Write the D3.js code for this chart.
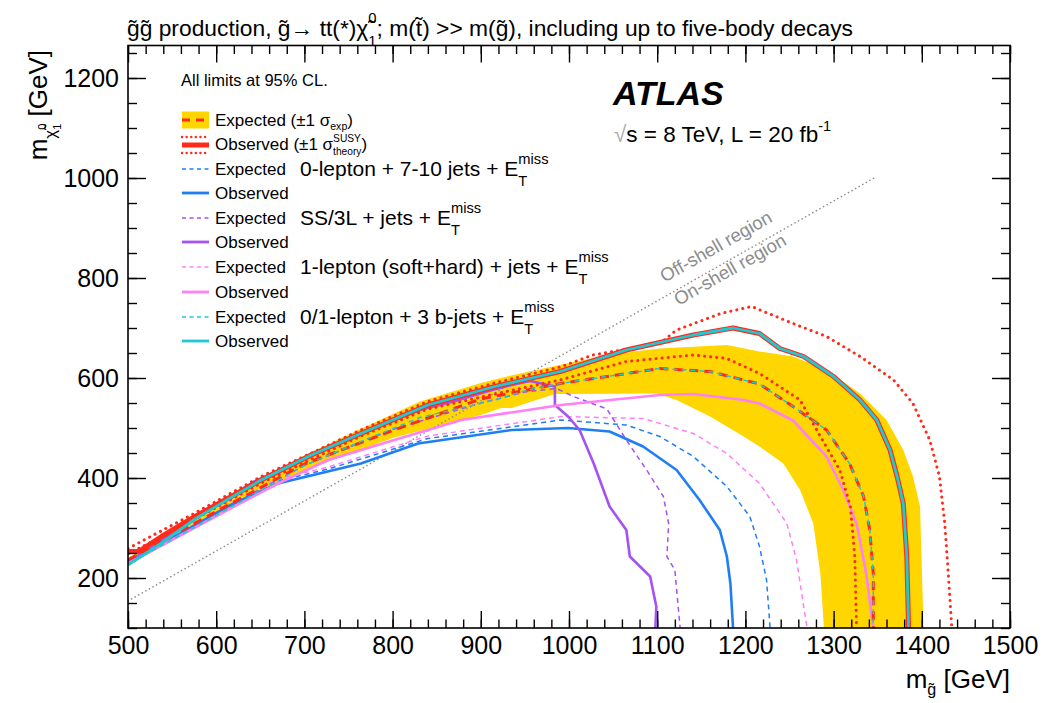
<!DOCTYPE html>
<html>
<head>
<meta charset="utf-8">
<script src="https://cdn.jsdelivr.net/npm/d3@7"></script>
<style>
body { margin: 0; background: #fff; }
text { font-family: "Liberation Sans", Arial, Helvetica, sans-serif; }
</style>
</head>
<body>
<svg id="chart" width="1045" height="703"></svg>
<script>
// tick labels
const xTicks = [500, 600, 700, 800, 900, 1000, 1100, 1200, 1300, 1400, 1500];
const yTicks = [200, 400, 600, 800, 1000, 1200];

// combined expected +-1 sigma band (outer edge, inner edge)
const bandUp = [[500,240],[600,340],[700,445],[760,495],[831,553],[900,590],[937,606],[1000,630],[1050,648],[1103,659],[1179,666],[1216,653],[1254,643],[1292,616],[1330,569],[1360,516],[1379,456],[1390,403],[1398,343],[1402,100]];
const bandDown = [[500,226],[600,322],[700,415],[800,480],[900,526],[923,540],[935,540],[984,568],[1100,569],[1122,556],[1160,523],[1198,483],[1216,463],[1243,429],[1262,376],[1277,309],[1285,209],[1289,100]];

// combined limits
const combExp = [[500,236],[600,333],[700,428],[800,495],[900,558],[990,589],[1103,619],[1160,613],[1216,588],[1254,543],[1292,496],[1318,429],[1334,363],[1341,296],[1345,209],[1345,100]];
const combObs = [[500,253],[512,253],[538,283],[576,323],[613,359],[651,396],[708,446],[764,489],[840,546],[916,583],[990,613],[1065,656],[1141,686],[1186,700],[1216,689],[1239,659],[1266,643],[1300,603],[1330,556],[1349,516],[1364,456],[1372,403],[1379,349],[1383,243],[1385,100]];
const combObsUp = [[500,259],[576,330],[651,403],[764,496],[840,553],[916,590],[990,622],[1027,646],[1103,669],[1122,696],[1172,729],[1207,743],[1254,709],[1292,683],[1330,643],[1368,596],[1390,549],[1409,476],[1420,403],[1426,309],[1430,209],[1434,100]];
const combObsDown = [[500,248],[576,318],[651,390],[764,484],[840,538],[916,568],[990,596],[1065,633],[1141,646],[1179,639],[1216,609],[1262,556],[1285,483],[1307,416],[1319,343],[1324,243],[1326,100]];

// 0-lepton + 7-10 jets
const zlExp = [[500,231],[613,343],[670,394],[727,418],[840,479],[991,516],[1065,506],[1103,483],[1141,443],[1179,383],[1205,323],[1216,263],[1224,196],[1228,100]];
const zlObs = [[500,229],[613,343],[670,389],[764,429],[829,469],[935,496],[999,500],[1046,493],[1084,463],[1122,416],[1148,356],[1171,296],[1179,243],[1183,189],[1186,100]];

// SS/3L + jets
const ssExp = [[500,230],[600,330],[700,425],[800,497],[900,550],[950,572],[986,579],[1005,563],[1043,538],[1065,476],[1088,416],[1107,363],[1113,309],[1111,243],[1120,216],[1126,100]];
const ssObs = [[500,232],[642,392],[755,483],[831,536],[869,553],[907,573],[935,586],[956,594],[984,583],[984,546],[999,523],[1012,496],[1028,429],[1046,343],[1065,296],[1069,243],[1092,203],[1099,143],[1098,100]];

// 1-lepton (soft+hard) + jets
const olExp = [[500,231],[613,345],[670,398],[727,422],[840,484],[991,523],[1084,519],[1141,489],[1179,449],[1216,389],[1247,309],[1258,236],[1269,110],[1270,100]];
const olObs = [[500,229],[557,283],[613,336],[670,389],[727,436],[802,476],[878,516],[991,546],[1103,566],[1141,568],[1198,556],[1216,549],[1254,515],[1292,443],[1311,376],[1326,309],[1337,209],[1345,100]];

// 0/1-lepton + 3 b-jets
const bjExp = [[500,228],[600,325],[700,425],[760,470],[831,521],[916,556],[953,576],[990,589],[1103,619],[1160,613],[1216,588],[1254,543],[1292,496],[1318,429],[1334,363],[1341,296],[1345,209],[1345,100]];
const bjObs = [[500,226],[538,270],[576,318],[613,357],[651,396],[708,446],[764,489],[840,546],[916,583],[990,613],[1065,656],[1141,686],[1186,700],[1216,689],[1239,659],[1266,643],[1300,603],[1330,556],[1349,516],[1364,456],[1372,403],[1379,349],[1383,243],[1385,100]];

// kinematic boundary m(chi) = m(gluino) - 2 m(top)
const diag = [[500,154],[1346,1000]];

const C = { red: "#ff2a1a", blue: "#1f7ff2", purple: "#a452f2", pink: "#ff80f5", cyan: "#1fc8d2", yellow: "#ffd600" };

const svg = d3.select("#chart");
const x = d3.scaleLinear().domain([500, 1500]).range([128, 1010]);
const y = d3.scaleLinear().domain([100, 1265]).range([628, 45.5]);
const line = d3.line().x(d => x(d[0])).y(d => y(d[1]));

svg.append("clipPath").attr("id", "clip").append("rect")
  .attr("x", 128).attr("y", 45.5).attr("width", 882).attr("height", 582.5);
const plot = svg.append("g").attr("clip-path", "url(#clip)");

plot.append("path").attr("d", line(bandUp.concat(bandDown.slice().reverse())) + "Z")
  .attr("fill", C.yellow).attr("stroke", "none");

plot.append("path").attr("d", line(diag)).attr("fill", "none")
  .attr("stroke", "#8c8c8c").attr("stroke-width", 1.6)
  .attr("stroke-dasharray", "0.1 4").attr("stroke-linecap", "round");

function curve(data, color, w, dash, cap) {
  plot.append("path").attr("d", line(data)).attr("fill", "none")
    .attr("stroke", color).attr("stroke-width", w)
    .attr("stroke-dasharray", dash || null)
    .attr("stroke-linecap", cap || "butt").attr("stroke-linejoin", "round");
}
curve(zlExp, C.blue, 1.5, "5 4");
curve(olExp, C.pink, 1.5, "5 4");
curve(ssExp, C.purple, 1.5, "5 4");
curve(zlObs, C.blue, 2.6);
curve(ssObs, C.purple, 2.6);
curve(olObs, C.pink, 2.6);
curve(combObsUp, C.red, 3, "0.1 6", "round");
curve(combObsDown, C.red, 3, "0.1 6", "round");
curve(combObs, C.red, 5);
curve(combExp, C.red, 3, "9 6");
curve(bjExp, C.cyan, 1.5, "5 4");
curve(bjObs, C.cyan, 2.8);

// frame and ROOT-style inward ticks
const minorX = d3.range(500, 1501, 20), minorY = d3.range(100, 1265, 50);
function ax(gen, tr, vals, size, labels) {
  const a = gen.tickValues(vals).tickSize(size).tickPadding(labels ? 8 : 0)
    .tickFormat(labels ? d3.format("d") : "");
  const g = svg.append("g").attr("transform", tr).call(a);
  g.select(".domain").remove();
  g.selectAll("line").attr("stroke", "#000").attr("stroke-width", 1.4);
  g.selectAll("text").attr("font-size", 25).attr("fill", "#000")
    .style("font-family", '"Liberation Sans", Arial, sans-serif');
  return g;
}
ax(d3.axisBottom(x), "translate(0,628)", xTicks, -17, true);
ax(d3.axisBottom(x), "translate(0,628)", minorX, -8.5, false);
ax(d3.axisTop(x), "translate(0,45.5)", xTicks, -17, false);
ax(d3.axisTop(x), "translate(0,45.5)", minorX, -8.5, false);
ax(d3.axisLeft(y), "translate(128,0)", yTicks, -18, true).selectAll("text").attr("dx", -1);
ax(d3.axisLeft(y), "translate(128,0)", minorY, -9, false);
ax(d3.axisRight(y), "translate(1010,0)", yTicks, -18, false);
ax(d3.axisRight(y), "translate(1010,0)", minorY, -9, false);
svg.append("rect").attr("x", 128).attr("y", 45.5).attr("width", 882).attr("height", 582.5)
  .attr("fill", "none").attr("stroke", "#000").attr("stroke-width", 1.6);

// text with stacked super/subscripts
function rich(x0, y0, size, parts, anchor, rot) {
  const g = svg.append("g");
  let cx = 0, pend = 0;
  parts.forEach(p => {
    const t = g.append("text").attr("x", cx).attr("y", (p.d || 0) * size)
      .attr("font-size", (p.s || 1) * size).attr("fill", p.c || "#000")
      .attr("font-weight", p.b ? "bold" : null).attr("font-style", p.i ? "italic" : null)
      .attr("xml:space", "preserve").text(p.t);
    const w = t.node().getComputedTextLength();
    if (p.keep) pend = Math.max(pend, w);
    else { cx += Math.max(pend, w); pend = 0; }
  });
  cx += pend;
  const dx = anchor === "end" ? -cx : anchor === "middle" ? -cx / 2 : 0;
  g.attr("transform", `translate(${x0},${y0}) rotate(${rot || 0}) translate(${dx},0)`);
  return g;
}

rich(127, 36, 22.8, [
  {t: "g\u0303g\u0303 production, g\u0303\u2192 tt(*)\u03c7\u0303"},
  {t: "0", s: 0.65, d: -0.55, keep: true}, {t: "1", s: 0.65, d: 0.42},
  {t: "; m(t\u0303) >> m(g\u0303), including up to five-body decays"}
]);

rich(1010, 688, 26, [
  {t: "m"}, {t: "g\u0303", s: 0.62, d: 0.28}, {t: "\u00a0[GeV]"}
], "end");

rich(47, 50, 26, [
  {t: "m"}, {t: "\u03c7\u0303", s: 0.65, d: 0.35},
  {t: "0", s: 0.42, d: -0.05, keep: true}, {t: "1", s: 0.42, d: 0.55},
  {t: "\u00a0[GeV]"}
], "end", -90);

// ATLAS label
rich(613, 105, 34, [{t: "ATLAS", b: true, i: true}]);
rich(614, 142, 22.5, [
  {t: "\u221a", c: "#aaa"}, {t: "s = 8 TeV, L = 20 fb"}, {t: "-1", s: 0.65, d: -0.5}
]);

// diagonal region labels
rich(719, 252, 18.5, [{t: "Off-shell region", c: "#8c8c8c"}], "middle", -29.5);
rich(733, 275, 18.5, [{t: "On-shell region", c: "#8c8c8c"}], "middle", -29.5);

// legend
rich(181, 86, 16.5, [{t: "All limits at 95% CL."}]);
const legRows = [120, 145, 169, 193, 218, 242, 267, 292, 317, 341];
const lx0 = 182, lx1 = 209;
svg.append("rect").attr("x", lx0).attr("y", legRows[0] - 8.5).attr("width", lx1 - lx0).attr("height", 17).attr("fill", C.yellow);
function legLine(r, color, w, dash, cap, dy) {
  svg.append("line").attr("x1", lx0).attr("x2", lx1)
    .attr("y1", legRows[r] + (dy || 0)).attr("y2", legRows[r] + (dy || 0))
    .attr("stroke", color).attr("stroke-width", w).attr("stroke-dasharray", dash || null)
    .attr("stroke-linecap", cap || "butt");
}
legLine(0, C.red, 3, "8 6");
legLine(1, C.red, 5);
legLine(1, C.red, 2.4, "0.1 4.5", "round", -8);
legLine(1, C.red, 2.4, "0.1 4.5", "round", 8);
const legColors = [C.blue, C.purple, C.pink, C.cyan];
const legDesc = ["0-lepton + 7-10 jets + E", "SS/3L + jets + E", "1-lepton (soft+hard) + jets + E", "0/1-lepton + 3 b-jets + E"];
legColors.forEach((c, i) => {
  legLine(2 + 2 * i, c, 1.5, "4 3.5");
  legLine(3 + 2 * i, c, 2.8);
  rich(215, legRows[2 + 2 * i] + 6, 17, [{t: "Expected"}]);
  rich(215, legRows[3 + 2 * i] + 6, 17, [{t: "Observed"}]);
  rich(300, legRows[2 + 2 * i] + 7, 21, [
    {t: legDesc[i]}, {t: "miss", s: 0.7, d: -0.58, keep: true}, {t: "T", s: 0.7, d: 0.48}
  ]);
});
rich(215, legRows[0] + 6, 17, [
  {t: "Expected (\u00b11 \u03c3"}, {t: "exp", s: 0.62, d: 0.25}, {t: ")"}
]);
rich(215, legRows[1] + 5, 17, [
  {t: "Observed (\u00b11 \u03c3"}, {t: "SUSY", s: 0.6, d: -0.5, keep: true},
  {t: "theory", s: 0.6, d: 0.32}, {t: ")"}
]);
</script>
</body>
</html>
